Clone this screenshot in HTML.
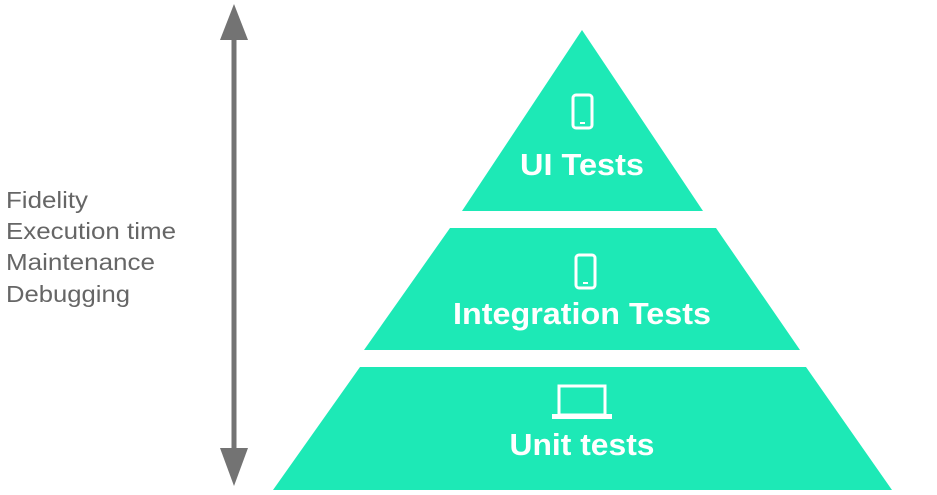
<!DOCTYPE html>
<html><head><style>
body{margin:0;background:#fff;width:937px;height:490px;overflow:hidden}
</style></head><body>
<svg width="937" height="490" viewBox="0 0 937 490" xmlns="http://www.w3.org/2000/svg" font-family="Liberation Sans, sans-serif">
<g fill="#737373">
<rect x="231.5" y="30" width="5" height="430"/>
<polygon points="234,4 220,40 248,40"/>
<polygon points="234,486 220,448 248,448"/>
</g>
<g fill="#666" font-size="23">
<text x="6" y="208" textLength="82" lengthAdjust="spacingAndGlyphs">Fidelity</text>
<text x="6" y="239" textLength="170" lengthAdjust="spacingAndGlyphs">Execution time</text>
<text x="6" y="270" textLength="149" lengthAdjust="spacingAndGlyphs">Maintenance</text>
<text x="6" y="302" textLength="124" lengthAdjust="spacingAndGlyphs">Debugging</text>
</g>
<g fill="#1DE9B6">
<polygon points="582,30 703,211 462,211"/>
<polygon points="450,228 716,228 800,350 364,350"/>
<polygon points="360,367 806,367 892,490 273,490"/>
</g>
<g fill="none" stroke="#fff" stroke-width="3">
<rect x="573" y="95" width="19" height="33" rx="3"/>
<rect x="576" y="255" width="19" height="33" rx="3"/>
<rect x="559" y="386" width="46" height="29"/>
</g>
<g fill="#fff">
<rect x="580" y="122" width="5" height="2"/>
<rect x="583" y="282" width="5" height="2"/>
<rect x="552" y="414" width="60" height="5"/>
</g>
<g fill="#fff" font-weight="bold" text-anchor="middle" font-size="31">
<text x="582" y="175" textLength="124" lengthAdjust="spacingAndGlyphs">UI Tests</text>
<text x="582" y="324" textLength="258" lengthAdjust="spacingAndGlyphs">Integration Tests</text>
<text x="582" y="455" textLength="145" lengthAdjust="spacingAndGlyphs">Unit tests</text>
</g>
</svg>
</body></html>
